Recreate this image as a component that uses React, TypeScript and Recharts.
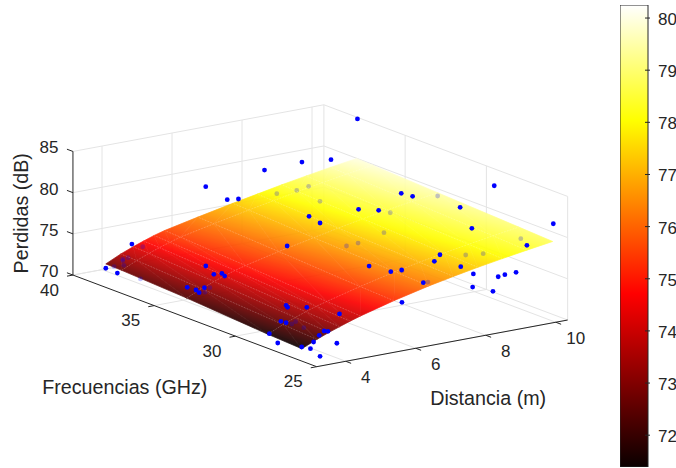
import { ReferenceArea, Scatter, ScatterChart, XAxis, YAxis } from 'recharts';

const WIDTH = 676;
const HEIGHT = 468;
const FONT = '"Liberation Sans", Arial, sans-serif';
const INK = '#262626';

// axis limits
const DIST_MIN = 3.17;
const DIST_MAX = 10.34;
const FREQ_MIN = 25;
const FREQ_MAX = 40;
const LOSS_MIN = 70;
const LOSS_MAX = 85;
const CLIM_MIN = 71.39;
const CLIM_MAX = 80.25;

const distTicks = [4, 6, 8, 10];
const freqTicks = [25, 30, 35, 40];
const lossTicks = [70, 75, 80, 85];
const colorTicks = [72, 73, 74, 75, 76, 77, 78, 79, 80];

// fitted surface, one row per frequency
const surfaceDist = [3.17, 3.6, 3.95, 4.25, 4.55, 4.85, 5.8, 6.8, 7.5, 8.2, 8.9, 9.6, 10.34];
const surfaceFreq = [25.92, 28, 33, 37, 37.98];
const surfaceLoss = [
  [71.5, 72.29, 72.87, 73.32, 73.75, 74.15, 75.25, 76.25, 76.85, 77.41, 77.91, 78.38, 78.85],
  [71.71, 72.55, 73.13, 73.59, 74.02, 74.37, 75.43, 76.44, 77.04, 77.6, 78.1, 78.58, 79.05],
  [72.4, 73.2, 73.79, 74.25, 74.66, 75.02, 75.97, 76.86, 77.47, 78.04, 78.55, 79.04, 79.52],
  [72.8, 73.65, 74.24, 74.7, 75.13, 75.5, 76.37, 77.25, 77.82, 78.39, 78.9, 79.4, 79.89],
  [72.85, 73.72, 74.31, 74.77, 75.21, 75.57, 76.45, 77.33, 77.9, 78.48, 79.0, 79.5, 79.98],
];

// measurements seen in front of the surface
const aboveDist = [6.5, 6.65, 6.97, 7.25, 8.32, 9.15, 4.39, 3.18, 3.51, 4.18, 4.41, 4.64, 4.72, 3.65, 3.9, 3.99, 4.14, 7.13, 6.98, 6.04, 10.37, 9.3, 9.16, 8.08, 8.19, 9.59, 9.46, 10.1, 9.93, 9.64, 7.62, 7.46, 7.75, 6.06, 6.68, 6.99, 6.68, 8.11, 8.82, 9.01, 9.33, 8.09, 8.67, 3.21, 3.45, 3.54, 3.69, 3.69, 3.73, 4.28, 3.67, 3.92, 4.01, 4.17, 4.31, 4.42, 3.73, 4.21, 4.75, 6.07];
const aboveFreq = [39, 38, 38, 37, 37, 37, 39, 38, 38, 34, 34, 34, 34, 34, 34, 34, 34, 34, 33, 33, 38, 33, 32, 33, 32, 30, 29, 29, 25, 26, 27, 27, 26, 28, 28, 28, 26, 26, 26, 26, 26, 26, 26, 28, 28, 28, 28, 28, 28, 28, 27, 27, 27, 27, 27, 27, 26, 26, 27, 26];
const aboveLoss = [78.83, 77.88, 77.71, 81.74, 81.87, 81.5, 73.54, 72.3, 71.46, 74.75, 73.56, 73.49, 73.1, 72.58, 72.06, 71.66, 72.14, 78.45, 78.5, 76.45, 84.74, 80.27, 80.75, 79.29, 79.82, 80.56, 78.86, 83.52, 82.01, 78.88, 78.59, 77.92, 77.78, 77.71, 76.53, 76.49, 76.68, 76.61, 75.71, 75.81, 75.85, 75.04, 74.06, 71.75, 70.43, 72.99, 72.7, 74.81, 74.54, 74.11, 70.51, 70.11, 70.85, 71.54, 71.95, 71.82, 70.08, 71.28, 73.67, 74.78];

// measurements hidden behind the surface
const belowDist = [4.7, 4.28, 4.13, 4.13, 3.88, 4.16, 4.17, 4.76, 4.62, 8.53, 9.1, 9.44, 9.3, 10.34, 9.45, 9.27, 8.2, 8.53, 8.82, 9.32, 9.93, 7.93, 7.74, 4.89, 4.78, 4.66];
const belowFreq = [39, 39, 39, 39, 39, 39, 38, 35, 35, 39, 39, 39, 38, 33, 34, 34, 34, 34, 28, 28, 27, 30, 28, 30, 30, 29];
const belowLoss = [72.97, 71.97, 71.9, 71.73, 71.19, 71.14, 70.22, 70.92, 70.47, 76.38, 76.34, 76.56, 75.59, 79.12, 77.05, 74.77, 74.0, 74.1, 76.87, 76.63, 78.71, 74.18, 74.44, 70.4, 70.2, 70.59];

// view projection of the 3d axes onto the page plane
const project = (dist: number, freq: number, loss: number) => ({
  x: 316.7 + 35 * (dist - DIST_MIN) - 16.25 * (freq - FREQ_MIN),
  y: 366.7 - 6.51 * (dist - DIST_MIN) - 6.11 * (freq - FREQ_MIN) - 8.24 * (loss - LOSS_MIN),
});

const clamp = (v: number) => Math.max(0, Math.min(1, v));

function hot(value: number) {
  const t = (value - CLIM_MIN) / (CLIM_MAX - CLIM_MIN);
  const r = Math.round(255 * clamp(t / 0.375));
  const g = Math.round(255 * clamp((t - 0.375) / 0.375));
  const b = Math.round(255 * clamp((t - 0.75) / 0.25));
  return `rgb(${r},${g},${b})`;
}

type Vertex = { x: number; y: number; v: number };

const vertexAt = (i: number, j: number): Vertex => ({
  ...project(surfaceDist[j], surfaceFreq[i], surfaceLoss[i][j]),
  v: surfaceLoss[i][j],
});

const triangles: { id: string; x: number; y: number; pts: Vertex[] }[] = [];
surfaceFreq.slice(1).forEach((_, i) => {
  surfaceDist.slice(1).forEach((__, j) => {
    const a = vertexAt(i, j);
    const b = vertexAt(i, j + 1);
    const c = vertexAt(i + 1, j + 1);
    const d = vertexAt(i + 1, j);
    [[a, b, c], [a, c, d]].forEach((pts, k) => {
      triangles.push({
        id: `tri-${i}-${j}-${k}`,
        x: (pts[0].x + pts[1].x + pts[2].x) / 3,
        y: (pts[0].y + pts[1].y + pts[2].y) / 3,
        pts,
      });
    });
  });
});

// colour runs linearly over a triangle, so one gradient along its slope is exact
function TriangleShape(props: any) {
  const { cx, cy, payload } = props;
  const dx = cx - payload.x;
  const dy = cy - payload.y;
  const [p0, p1, p2] = payload.pts as Vertex[];
  const ax = p1.x - p0.x;
  const ay = p1.y - p0.y;
  const bx = p2.x - p0.x;
  const by = p2.y - p0.y;
  const det = ax * by - ay * bx;
  const gx = ((p1.v - p0.v) * by - (p2.v - p0.v) * ay) / det;
  const gy = ((p2.v - p0.v) * ax - (p1.v - p0.v) * bx) / det;
  const len = gx * gx + gy * gy;
  const lo = Math.min(p0.v, p1.v, p2.v);
  const hi = Math.max(p0.v, p1.v, p2.v);
  const points = [p0, p1, p2].map((p) => `${p.x + dx},${p.y + dy}`).join(' ');
  const stops = [0, 0.2, 0.4, 0.6, 0.8, 1];
  const paint = `url(#${payload.id})`;
  return (
    <g>
      <defs>
        <linearGradient
          id={payload.id}
          gradientUnits="userSpaceOnUse"
          x1={p0.x + dx + (gx * (lo - p0.v)) / len}
          y1={p0.y + dy + (gy * (lo - p0.v)) / len}
          x2={p0.x + dx + (gx * (hi - p0.v)) / len}
          y2={p0.y + dy + (gy * (hi - p0.v)) / len}
        >
          {stops.map((s) => (
            <stop key={s} offset={s} stopColor={hot(lo + (hi - lo) * s)} />
          ))}
        </linearGradient>
      </defs>
      <polygon points={points} fill={paint} stroke={paint} strokeWidth={0.7} />
    </g>
  );
}

const NoDot = () => <g />;
const BlueDot = (props: any) => <circle cx={props.cx} cy={props.cy} r={2.4} fill="#0000ff" />;
const FadedDot = (props: any) => <circle cx={props.cx} cy={props.cy} r={2.4} fill="#0000ff" fillOpacity={0.24} />;

const TextMark = (props: any) => {
  const { cx, cy, payload } = props;
  const px = cx + payload.ox;
  const py = cy + payload.oy;
  return (
    <text
      x={px}
      y={py}
      fill={INK}
      fontFamily={FONT}
      fontSize={payload.size}
      textAnchor="middle"
      dominantBaseline="central"
      transform={payload.rotate ? `rotate(${payload.rotate} ${px} ${py})` : undefined}
    >
      {payload.text}
    </text>
  );
};

const segment = (from: number[], to: number[]) => [
  project(from[0], from[1], from[2]),
  project(to[0], to[1], to[2]),
];

const gridLines = [
  // floor
  ...distTicks.map((d) => segment([d, FREQ_MIN, LOSS_MIN], [d, FREQ_MAX, LOSS_MIN])),
  ...freqTicks.map((f) => segment([DIST_MIN, f, LOSS_MIN], [DIST_MAX, f, LOSS_MIN])),
  // wall at the highest frequency
  ...distTicks.map((d) => segment([d, FREQ_MAX, LOSS_MIN], [d, FREQ_MAX, LOSS_MAX])),
  ...lossTicks.map((z) => segment([DIST_MIN, FREQ_MAX, z], [DIST_MAX, FREQ_MAX, z])),
  // wall at the longest distance
  ...freqTicks.map((f) => segment([DIST_MAX, f, LOSS_MIN], [DIST_MAX, f, LOSS_MAX])),
  ...lossTicks.map((z) => segment([DIST_MAX, FREQ_MIN, z], [DIST_MAX, FREQ_MAX, z])),
];

const axisLines = [
  segment([DIST_MIN, FREQ_MAX, LOSS_MIN], [DIST_MIN, FREQ_MAX, LOSS_MAX]),
  segment([DIST_MIN, FREQ_MIN, LOSS_MIN], [DIST_MIN, FREQ_MAX, LOSS_MIN]),
  segment([DIST_MIN, FREQ_MIN, LOSS_MIN], [DIST_MAX, FREQ_MIN, LOSS_MIN]),
  ...distTicks.map((d) => segment([d, FREQ_MIN, LOSS_MIN], [d, FREQ_MIN - 0.33, LOSS_MIN])),
  ...freqTicks.map((f) => segment([DIST_MIN, f, LOSS_MIN], [DIST_MIN - 0.17, f, LOSS_MIN])),
  ...lossTicks.map((z) => segment([DIST_MIN, FREQ_MAX, z], [DIST_MIN, FREQ_MAX + 0.37, z])),
];

const meshLines = [
  ...surfaceDist.slice(1, -1).map((_, j) => surfaceFreq.map((__, i) => vertexAt(i, j + 1))),
  ...[1, 2, 3].map((i) => surfaceDist.map((_, j) => vertexAt(i, j))),
];

const textMarks = [
  ...distTicks.map((d) => ({ ...project(d, FREQ_MIN, LOSS_MIN), text: String(d), ox: 20, oy: 16, size: 17 })),
  ...freqTicks.map((f) => ({ ...project(DIST_MIN, f, LOSS_MIN), text: String(f), ox: -23.5, oy: 15, size: 17 })),
  ...lossTicks.map((z) => ({ ...project(DIST_MIN, FREQ_MAX, z), text: String(z), ox: -24, oy: -3.5, size: 17 })),
  { ...project(6.755, FREQ_MIN, LOSS_MIN), text: 'Distancia (m)', ox: 46, oy: 55, size: 19.7 },
  { ...project(DIST_MIN, 32.5, LOSS_MIN), text: 'Frecuencias (GHz)', ox: -70, oy: 66, size: 19.7 },
  { ...project(DIST_MIN, FREQ_MAX, 77.5), text: 'Perdidas (dB)', ox: -51.5, oy: 0, size: 19.7, rotate: -90 },
];

const toDots = (dist: number[], freq: number[], loss: number[]) =>
  dist.map((d, i) => project(d, freq[i], loss[i]));

const belowDots = toDots(belowDist, belowFreq, belowLoss);
const aboveDots = toDots(aboveDist, aboveFreq, aboveLoss);

const colorLimits = [
  { x: 0, y: CLIM_MIN },
  { x: 1, y: CLIM_MAX },
];

const ColorTick = (props: any) => {
  const { x, y, payload } = props;
  return (
    <g>
      <line x1={x - 5} x2={x} y1={y} y2={y} stroke={INK} />
      <text x={x + 8} y={y + 1.5} fill={INK} fontFamily={FONT} fontSize={17} dominantBaseline="central">
        {payload.value}
      </text>
    </g>
  );
};

function Colorbar() {
  return (
    <div style={{ position: 'absolute', left: 620, top: 5 }}>
      <ScatterChart width={56} height={462} margin={{ top: 0, right: 0, bottom: 0, left: 0 }}>
        <defs>
          <linearGradient id="hotBar" x1="0" y1="1" x2="0" y2="0">
            <stop offset="0" stopColor="#0a0000" />
            <stop offset="0.375" stopColor="#ff0000" />
            <stop offset="0.75" stopColor="#ffff00" />
            <stop offset="1" stopColor="#ffffff" />
          </linearGradient>
        </defs>
        <XAxis type="number" dataKey="x" domain={[0, 1]} hide height={0} />
        <YAxis
          type="number"
          dataKey="y"
          orientation="right"
          width={28}
          domain={[CLIM_MIN, CLIM_MAX]}
          ticks={colorTicks}
          interval={0}
          axisLine={false}
          tickLine={false}
          tickSize={0}
          tick={ColorTick}
        />
        <Scatter data={colorLimits} shape={NoDot} isAnimationActive={false} />
        <ReferenceArea x1={0} x2={1} y1={CLIM_MIN} y2={CLIM_MAX} fill="url(#hotBar)" fillOpacity={1} stroke={INK} strokeWidth={1} />
      </ScatterChart>
    </div>
  );
}

export default function App() {
  return (
    <div style={{ position: 'absolute', left: 0, top: 0, width: WIDTH, height: HEIGHT, background: '#fff' }}>
      <style>{'.surface-sheet { opacity: 0.92; }'}</style>
      <ScatterChart width={WIDTH} height={HEIGHT} margin={{ top: 0, right: 0, bottom: 0, left: 0 }}>
        <XAxis type="number" dataKey="x" domain={[0, WIDTH]} hide />
        <YAxis type="number" dataKey="y" domain={[0, HEIGHT]} reversed hide width={0} />
        {gridLines.map((pts, i) => (
          <Scatter key={`grid-${i}`} data={pts} line={{ stroke: '#e4e4e4', strokeWidth: 1 }} shape={NoDot} isAnimationActive={false} />
        ))}
        <Scatter className="surface-sheet" data={triangles} shape={TriangleShape} isAnimationActive={false} />
        <Scatter data={belowDots} shape={FadedDot} isAnimationActive={false} />
        {meshLines.map((pts, i) => (
          <Scatter
            key={`mesh-${i}`}
            data={pts}
            line={{ stroke: 'rgba(255,255,255,0.2)', strokeWidth: 1, strokeDasharray: '1.5 1.5' }}
            shape={NoDot}
            isAnimationActive={false}
          />
        ))}
        {axisLines.map((pts, i) => (
          <Scatter key={`axis-${i}`} data={pts} line={{ stroke: INK, strokeWidth: 1 }} shape={NoDot} isAnimationActive={false} />
        ))}
        <Scatter data={aboveDots} shape={BlueDot} isAnimationActive={false} />
        <Scatter data={textMarks} shape={TextMark} isAnimationActive={false} />
      </ScatterChart>
      <Colorbar />
    </div>
  );
}
